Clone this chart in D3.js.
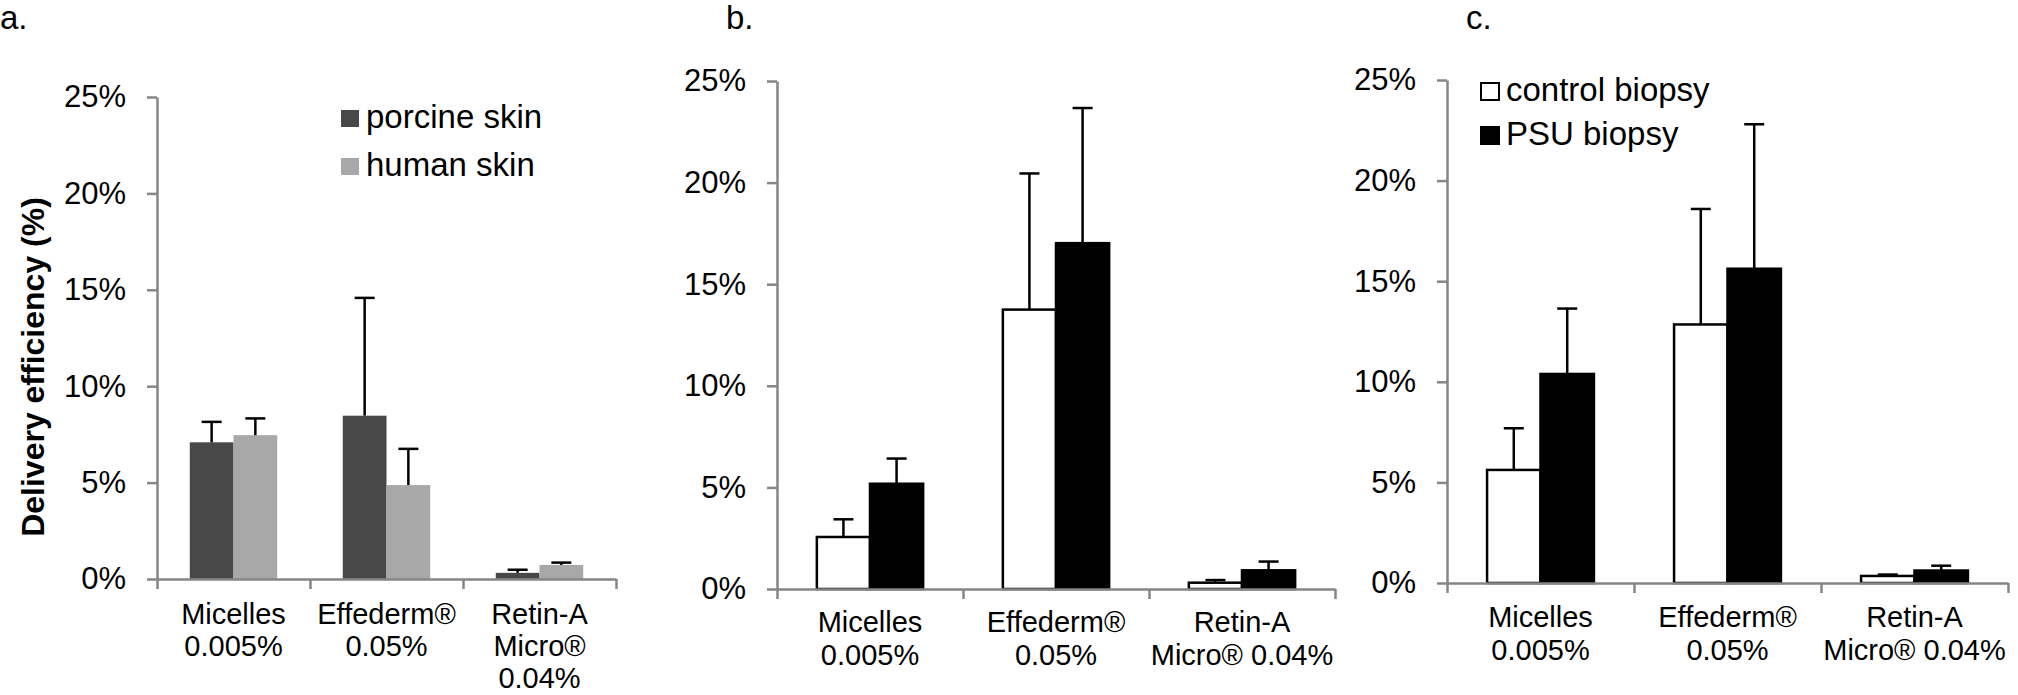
<!DOCTYPE html>
<html>
<head>
<meta charset="utf-8">
<script src="https://cdn.jsdelivr.net/npm/d3@7"></script>
<style>
  body { margin: 0; background: #fff; }
  svg { display: block; font-family: "Liberation Sans", Arial, sans-serif; }
  .axis path, .axis line { stroke: #868686; stroke-width: 2.5px; }
  .axis text { fill: #000; }
</style>
</head>
<body>
<div id="chart"></div>
<script>
// categories (one entry per line of the label)
var catsA = [["Micelles", "0.005%"], ["Effederm®", "0.05%"], ["Retin-A", "Micro®", "0.04%"]];
var catsBC = [["Micelles", "0.005%"], ["Effederm®", "0.05%"], ["Retin-A", "Micro® 0.04%"]];
var yTicks = [0, 5, 10, 15, 20, 25];

// panel a : porcine vs human skin
var porcineMean = [7.09, 8.47, 0.32];
var porcineSD   = [1.06, 6.11, 0.16];
var humanMean   = [7.46, 4.87, 0.73];
var humanSD     = [0.87, 1.88, 0.12];

// panel b
var ctrlMeanB = [2.56, 13.75, 0.31];
var ctrlSDB   = [0.87, 6.70, 0.13];
var psuMeanB  = [5.18, 17.02, 0.92];
var psuSDB    = [1.24, 6.65, 0.43];

// panel c
var ctrlMeanC = [5.62, 12.85, 0.35];
var ctrlSDC   = [2.07, 5.74, 0.07];
var psuMeanC  = [10.39, 15.62, 0.62];
var psuSDC    = [3.25, 7.18, 0.24];

var svg = d3.select("#chart").append("svg")
    .attr("width", 2018)
    .attr("height", 695);

function drawPanel(opt) {
    var g = svg.append("g");
    var right = opt.left + 3 * opt.catW;

    var y = d3.scaleLinear().domain([0, 25]).range([opt.y0, opt.y25]);
    var x = d3.scaleBand().domain([0, 1, 2]).range([opt.left, right]);
    var xs = d3.scaleBand().domain([0, 1]).range([0, x.bandwidth()])
        .paddingInner(0).paddingOuter(0.75);
    var edge = d3.scaleLinear().domain([0, 3]).range([opt.left, right]);

    // bars + error bars
    opt.series.forEach(function(s, si) {
        var rows = s.mean.map(function(m, i) { return {i: i, m: m, sd: s.sd[i]}; });
        var bg = g.append("g");
        bg.selectAll("rect")
            .data(rows)
            .enter().append("rect")
            .attr("x", function(d) { return x(d.i) + xs(si); })
            .attr("y", function(d) { return y(d.m); })
            .attr("width", xs.bandwidth())
            .attr("height", function(d) { return y(0) - y(d.m); })
            .attr("fill", s.fill)
            .attr("stroke", s.stroke || "none")
            .attr("stroke-width", 2.5);

        var eg = bg.selectAll("g.err")
            .data(rows)
            .enter().append("g")
            .attr("class", "err")
            .attr("transform", function(d) {
                return "translate(" + (x(d.i) + xs(si) + xs.bandwidth() / 2) + ",0)";
            });
        eg.append("line")
            .attr("y1", function(d) { return y(d.m); })
            .attr("y2", function(d) { return y(d.m + d.sd); })
            .attr("stroke", "#000").attr("stroke-width", 2.5);
        eg.append("line")
            .attr("x1", -10).attr("x2", 10)
            .attr("y1", function(d) { return y(d.m + d.sd); })
            .attr("y2", function(d) { return y(d.m + d.sd); })
            .attr("stroke", "#000").attr("stroke-width", 2.5);
    });

    // y axis
    var ya = g.append("g")
        .attr("class", "axis")
        .attr("transform", "translate(" + opt.left + ",0)")
        .call(d3.axisLeft(y).tickValues(yTicks).tickSize(10).tickSizeOuter(0)
            .tickPadding(21).tickFormat(function(d) { return d + "%"; }));
    ya.selectAll("text").style("font-size", "31px");

    // x axis (ticks at category edges)
    g.append("g")
        .attr("class", "axis")
        .attr("transform", "translate(0," + opt.y0 + ")")
        .call(d3.axisBottom(edge).tickValues([0, 1, 2, 3]).tickSize(10).tickSizeOuter(0)
            .tickFormat(""));

    // category labels
    var cl = g.selectAll("text.cat")
        .data(opt.cats)
        .enter().append("text")
        .attr("class", "cat")
        .attr("text-anchor", "middle")
        .style("font-size", "29px")
        .attr("transform", function(d, i) {
            return "translate(" + (x(i) + x.bandwidth() / 2) + "," + (opt.y0 + opt.labOff) + ")";
        });
    cl.selectAll("tspan")
        .data(function(d) { return d; })
        .enter().append("tspan")
        .attr("x", 0)
        .attr("y", function(d, i) { return i * opt.lineH; })
        .text(function(d) { return d; });

    // panel letter
    g.append("text")
        .attr("x", opt.letterX).attr("y", 29)
        .style("font-size", "33px")
        .text(opt.letter);

    // legend (only panels a and c have one)
    if (!opt.legend) return;
    var lg = g.append("g")
        .selectAll("g")
        .data(opt.series)
        .enter().append("g")
        .attr("transform", function(d, i) {
            return "translate(" + opt.legend.x + "," + (opt.legend.y + i * opt.legend.step) + ")";
        });
    lg.append("rect")
        .attr("x", 0).attr("y", -18)
        .attr("width", 18).attr("height", 17)
        .attr("fill", function(d) { return d.fill; })
        .attr("stroke", function(d) { return d.stroke || "none"; })
        .attr("stroke-width", 2);
    lg.append("text")
        .attr("x", 25).attr("y", 0)
        .style("font-size", "33px")
        .text(function(d) { return d.name; });
}

drawPanel({
    letter: "a.", letterX: 0,
    left: 157, catW: 153, y0: 579, y25: 97, labOff: 45, lineH: 32,
    cats: catsA,
    series: [
        {name: "porcine skin", mean: porcineMean, sd: porcineSD, fill: "#484848"},
        {name: "human skin", mean: humanMean, sd: humanSD, fill: "#a8a8a8"}
    ],
    legend: {x: 341, y: 128, step: 48}
});

drawPanel({
    letter: "b.", letterX: 726,
    left: 777, catW: 186, y0: 589, y25: 81, labOff: 43, lineH: 33,
    cats: catsBC,
    series: [
        {name: "control biopsy", mean: ctrlMeanB, sd: ctrlSDB, fill: "#fff", stroke: "#000"},
        {name: "PSU biopsy", mean: psuMeanB, sd: psuSDB, fill: "#000", stroke: "#000"}
    ]
});

drawPanel({
    letter: "c.", letterX: 1466,
    left: 1447, catW: 187, y0: 583, y25: 80, labOff: 44, lineH: 33,
    cats: catsBC,
    series: [
        {name: "control biopsy", mean: ctrlMeanC, sd: ctrlSDC, fill: "#fff", stroke: "#000"},
        {name: "PSU biopsy", mean: psuMeanC, sd: psuSDC, fill: "#000", stroke: "#000"}
    ],
    legend: {x: 1481, y: 101, step: 44}
});

// shared y-axis title
svg.append("text")
    .attr("transform", "translate(33,367) rotate(-90)")
    .attr("text-anchor", "middle")
    .attr("dy", "0.35em")
    .style("font-size", "32px")
    .style("font-weight", "bold")
    .text("Delivery efficiency (%)");
</script>
</body>
</html>
